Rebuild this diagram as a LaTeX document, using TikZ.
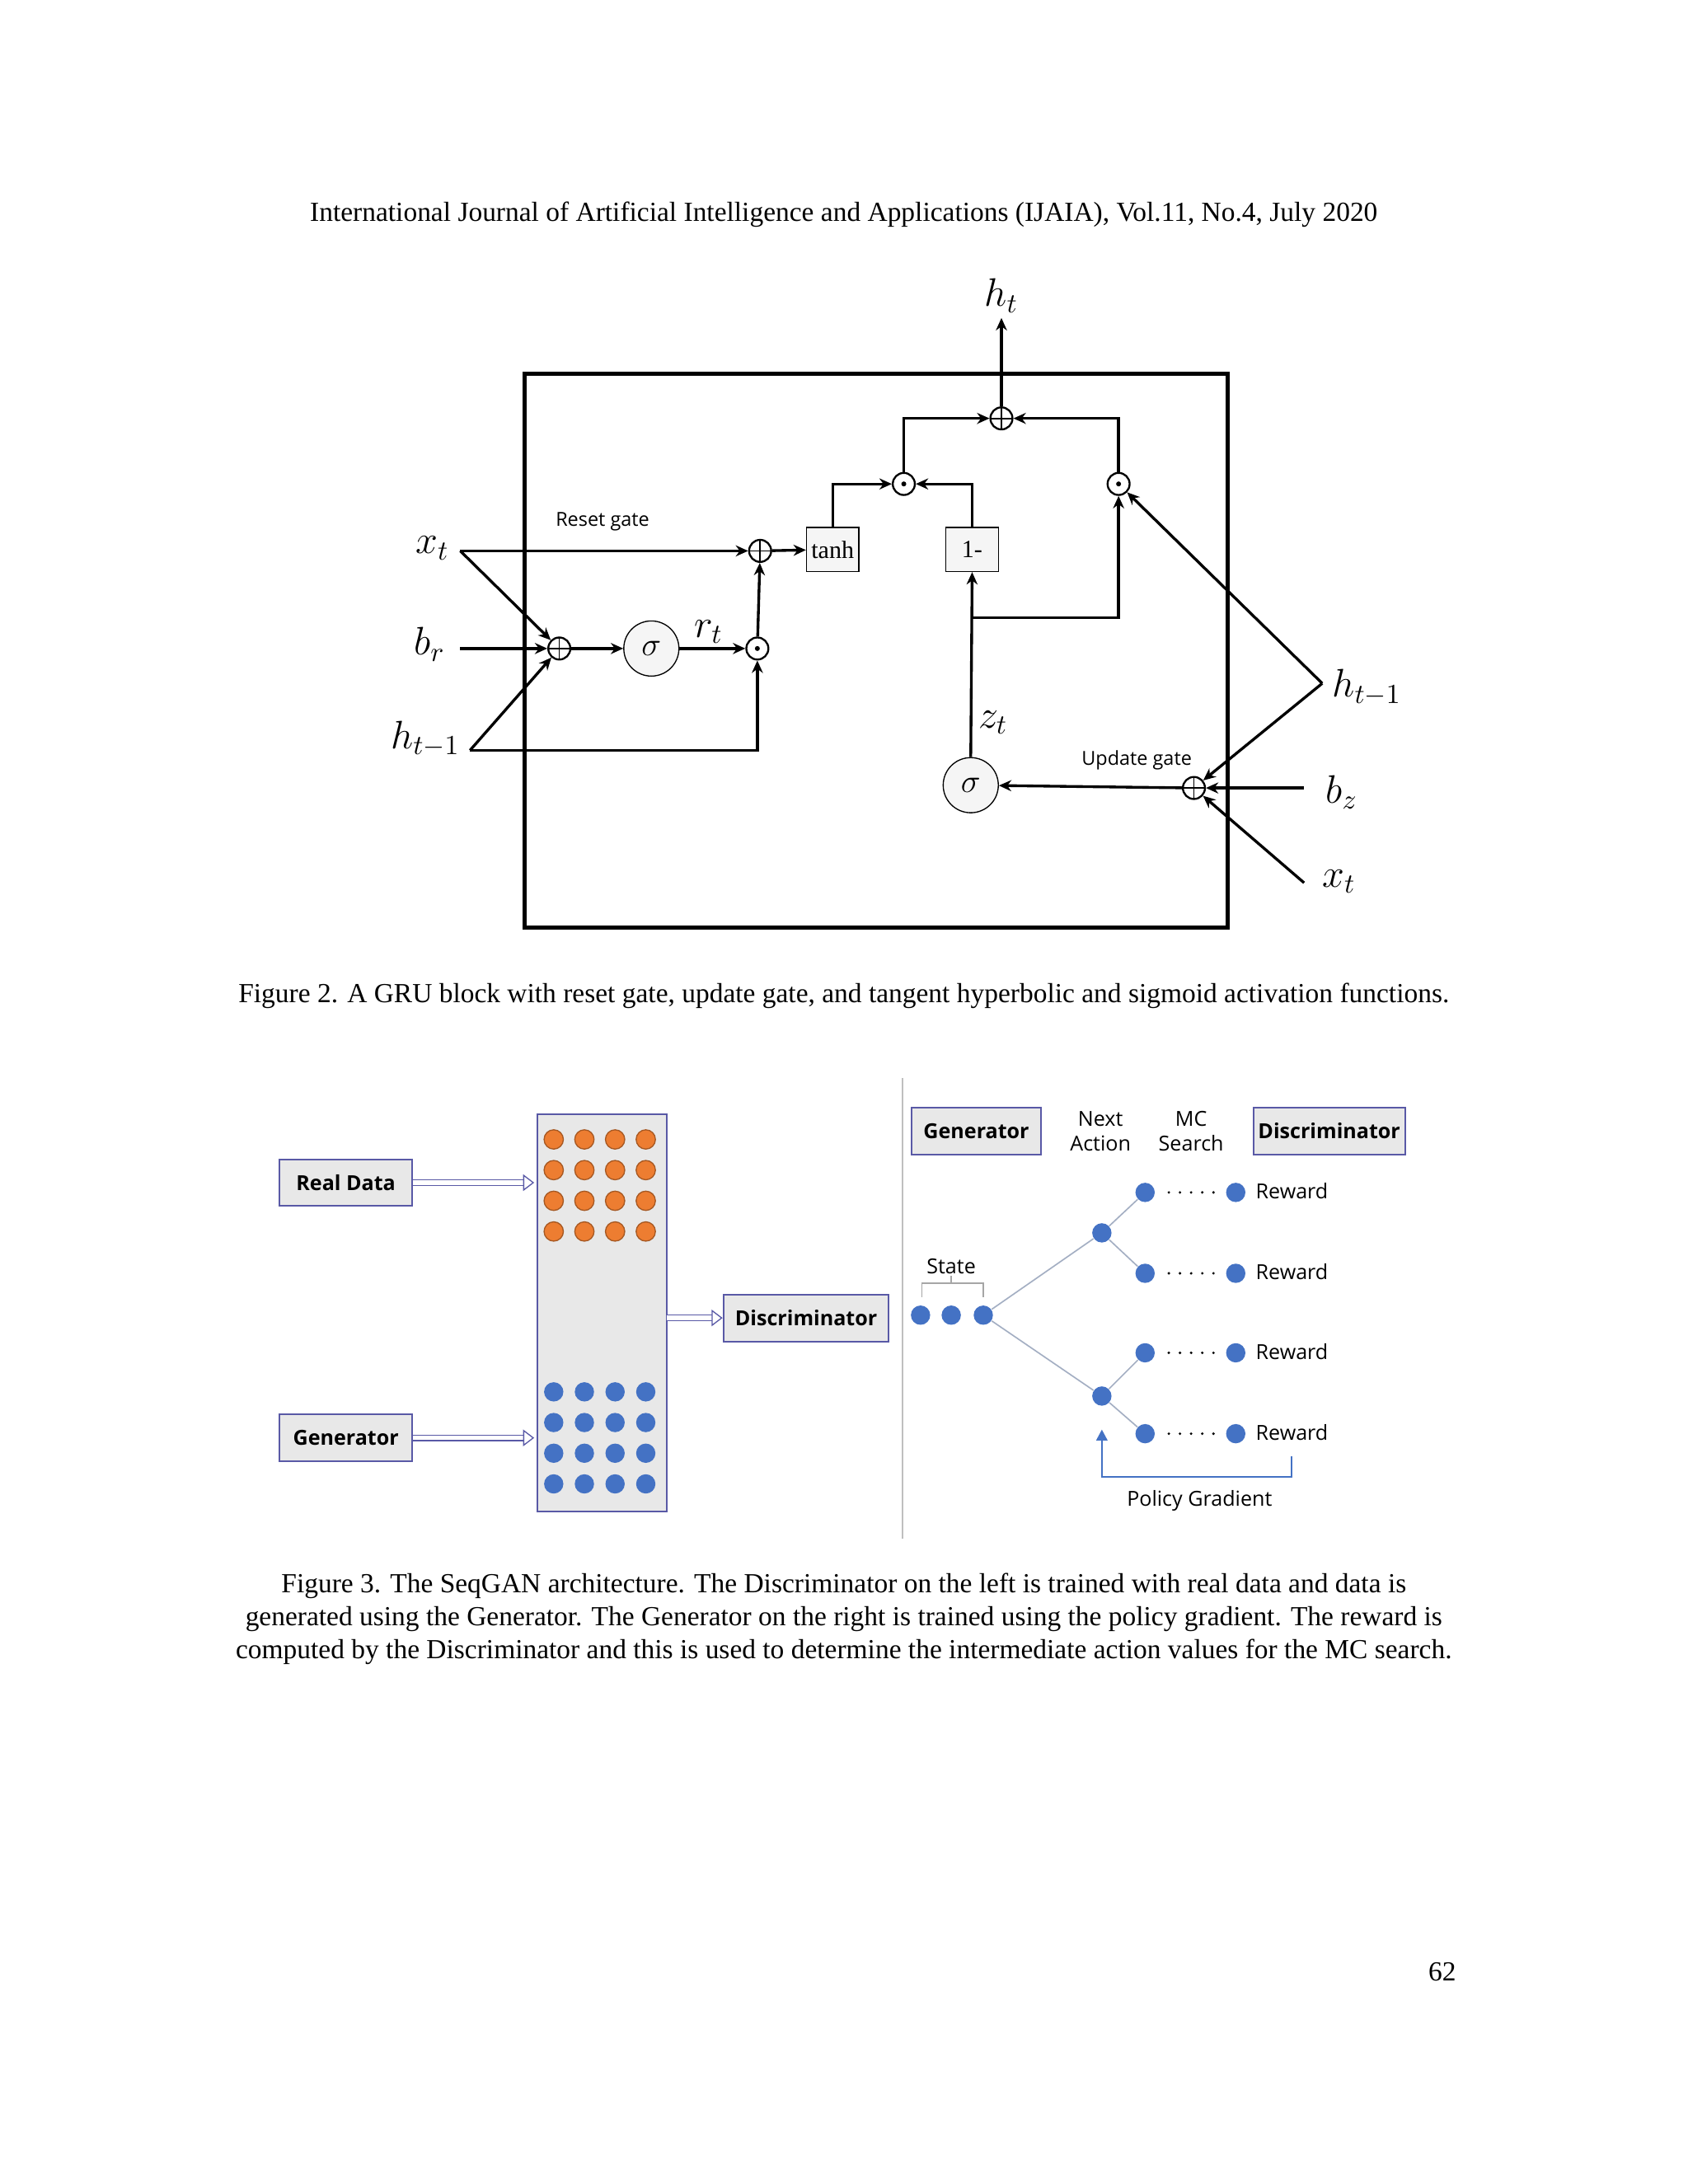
\documentclass[tikz,border=0pt]{standalone}
\usepackage{fontspec}
\setmainfont{Liberation Serif}
\newfontfamily\osans{Open Sans}
\usetikzlibrary{arrows.meta}
\definecolor{bl}{HTML}{4472C4}
\definecolor{orn}{HTML}{ED7D31}
\begin{document}
\begin{tikzpicture}[x=0.5058pt,y=-0.5058pt,
 ln/.style={line width=1pt,-{Stealth[length=4.5pt,width=4pt]}},
 opl/.style={circle,draw,line width=0.7pt,minimum size=8pt,inner sep=0pt,fill=white,
   path picture={\draw[line width=0.5pt] (path picture bounding box.north)--(path picture bounding box.south) (path picture bounding box.west)--(path picture bounding box.east);}},
 odt/.style={circle,draw,line width=0.7pt,minimum size=8pt,inner sep=0pt,fill=white,
   label={[inner sep=0pt]center:\tikz\fill (0,0) circle (0.9pt);}},
 sig/.style={circle,draw,fill=gray!8,minimum size=20pt,inner sep=0pt,font=\large},
 bx/.style={draw,fill=gray!8,minimum width=19pt,minimum height=16pt,inner sep=1pt,font=\small},
 gb/.style={draw=gray!70!blue,fill=gray!18,line width=0.6pt,font=\osans\bfseries\fontsize{7.5}{9}\selectfont,inner sep=0pt,minimum height=17pt},
 st/.style={font=\osans\fontsize{7.5}{9}\selectfont},
 bd/.style={circle,fill=bl,minimum size=7pt,inner sep=0pt},
 od/.style={circle,fill=orn,draw=orn!70!black,line width=0.4pt,minimum size=7pt,inner sep=0pt},
 hol/.style={double=white,double distance=1.6pt,line width=0.4pt,draw=gray!70!blue,-{Triangle[open,length=4pt,width=6pt]}},
 tl/.style={draw=bl!40!gray!60,line width=0.5pt}]
\useasboundingbox (0,0) rectangle (1210,1566);
\node at (605,154) {International Journal of Artificial Intelligence and Applications (IJAIA), Vol.11, No.4, July 2020};
% GRU
\draw[line width=1.5pt] (376,268) rectangle (880,665);
\node[opl] (pt) at (718,300) {};
\node[odt] (oa) at (648,347) {};
\node[odt] (ob) at (802,347) {};
\node[bx] (tanh) at (597,394) {tanh};
\node[bx] (om) at (697,394) {1-};
\node[opl] (pr) at (545,395) {};
\node[odt] (orr) at (543,465) {};
\node[sig] (s1) at (467,465) {$\sigma$};
\node[opl] (p1) at (401,465) {};
\node[sig] (s2) at (696,563) {$\sigma$};
\node[opl] (pu) at (856,565) {};
\node (ht) at (718,212) {\Large $h_t$};
\node (xt) at (310,393) {\Large $x_t$};
\node (br) at (308,462) {\Large $b_r$};
\node (hl) at (305,530) {\Large $h_{t-1}$};
\node (hr) at (980,493) {\Large $h_{t-1}$};
\node (bz) at (962,568) {\Large $b_z$};
\node (xr) at (960,632) {\Large $x_t$};
\coordinate (xa) at (330,395);
\coordinate (ha) at (337,538);
\coordinate (hv) at (948,490);
\node[font=\osans\fontsize{7}{8}\selectfont] at (432,374) {Reset gate};
\node[font=\osans\fontsize{7}{8}\selectfont] at (815,545) {Update gate};
\node at (508,453) {\Large $r_t$};
\node at (712,518) {\Large $z_t$};
\draw[ln] (xa)--(pr);
\draw[ln] (xa)--(p1);
\draw[ln] (330,465)--(p1);
\draw[ln] (ha)--(p1);
\draw[ln] (ha)--(543,538)--(orr);
\draw[ln] (p1)--(s1);
\draw[ln] (s1)--(orr);
\draw[ln] (orr)--(pr);
\draw[ln] (pr)--(tanh);
\draw[ln] (tanh.north)|-(oa);
\draw[ln] (om.north)|-(oa);
\draw[ln] (oa)|-(pt);
\draw[ln] (ob)|-(pt);
\draw[ln] (pt)--(718,228);
\draw[ln] (s2.north)--(om.south);
\draw[ln] (696,443)-|(ob);
\draw[ln] (hv)--(ob);
\draw[ln] (hv)--(pu);
\draw[ln] (935,565)--(pu);
\draw[ln] (935,633)--(pu);
\draw[ln] (pu)--(s2);
\node at (605,714) {Figure 2. A GRU block with reset gate, update gate, and tangent hyperbolic and sigmoid activation functions.};
% SeqGAN left
\draw[draw=gray!70!blue,fill=gray!18,line width=0.6pt] (385,799) rectangle (478,1084);
\node[gb,minimum width=48pt] (rd) at (248,848) {Real Data};
\node[gb,minimum width=48pt] (gl) at (248,1031) {Generator};
\node[gb,minimum width=60pt] (dl) at (578,945) {Discriminator};
\foreach \x in {397,419,441,463}{
 \foreach \y in {817,839,861,883} \node[od] at (\x,\y) {};
 \foreach \y in {998,1020,1042,1064} \node[bd] at (\x,\y) {};}
\draw[hol] (rd.east)--(383,848);
\draw[hol] (gl.east)--(383,1031);
\draw[hol] (478,945)--(dl.west);
\draw[gray!50,line width=0.6pt] (647,773)--(647,1103);
% right
\node[gb,minimum width=47pt] (gr) at (700,811) {Generator};
\node[gb,minimum width=55pt] (dr) at (953,811) {Discriminator};
\node[st,align=center] at (789,811) {Next\\Action};
\node[st,align=center] at (854,811) {MC\\Search};
\node[st] at (682,908) {State};
\draw[gray!70,line width=0.5pt] (661,930)--(661,920)--(705,920)--(705,930) (682,920)--(682,915);
\node[bd] (s1d) at (660,943) {};
\node[bd] (s2d) at (682,943) {};
\node[bd] (s3d) at (705,943) {};
\node[bd] (b1) at (790,884) {};
\node[bd] (b2) at (790,1001) {};
\draw[tl] (s3d)--(b1); \draw[tl] (s3d)--(b2);
\foreach \y/\n/\b in {855/l1/b1,913/l2/b1,970/l3/b2,1028/l4/b2}{
 \node[bd] (\n) at (821,\y) {};
 \draw[tl] (\b)--(\n);
 \node[bd] (r\n) at (886,\y) {};
 \node[st,anchor=west,inner sep=0pt] at (900,\y-1) {Reward};
 \foreach \k in {0,...,4} \fill (838+\k*8,\y) circle (0.5pt);}
\draw[draw=bl,line width=0.8pt,-{Triangle[length=4pt,width=4pt]}] (926,1044)--(926,1059)--(790,1059)--(790,1025);
\node[st] at (860,1076) {Policy Gradient};
\node[align=center] at (605,1161) {Figure 3. The SeqGAN architecture. The Discriminator on the left is trained with real data and data is\\generated using the Generator. The Generator on the right is trained using the policy gradient. The reward is\\computed by the Discriminator and this is used to determine the intermediate action values for the MC search.};
\node at (1034,1414) {62};
\end{tikzpicture}
\end{document}
